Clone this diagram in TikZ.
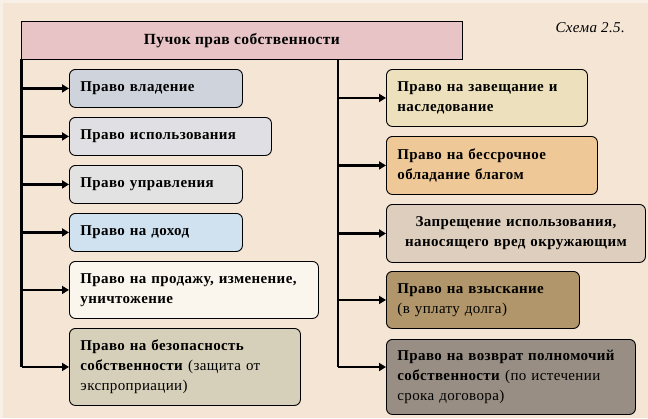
\documentclass[tikz,border=0pt]{standalone}
\usepackage{fontspec}
\setmainfont{Liberation Serif}[LetterSpace=2.5]
\usetikzlibrary{arrows.meta}
\definecolor{bgc}{RGB}{244,229,213}
\definecolor{titlec}{RGB}{232,196,198}
\definecolor{cA}{RGB}{206,211,220}
\definecolor{cB}{RGB}{224,224,228}
\definecolor{cC}{RGB}{226,226,226}
\definecolor{cD}{RGB}{208,226,240}
\definecolor{cE}{RGB}{251,246,237}
\definecolor{cF}{RGB}{214,208,186}
\definecolor{rA}{RGB}{236,225,188}
\definecolor{rB}{RGB}{238,200,150}
\definecolor{rC}{RGB}{222,206,190}
\definecolor{rD}{RGB}{176,150,106}
\definecolor{rE}{RGB}{152,142,132}
\tikzset{
  box/.style={draw=black, line width=0.9pt, rounded corners=6pt, anchor=north west,
    inner xsep=11pt, inner ysep=0pt, align=left,
    font=\fontsize{15}{20}\selectfont\bfseries},
  conn/.style={line width=2.8pt, -{Triangle[length=7pt,width=8pt]}},
  trunk/.style={line width=2.8pt},
}
\begin{document}
\begin{tikzpicture}[x=1pt,y=-1pt]
\useasboundingbox (0,0) rectangle (648,418);
\fill[bgc] (0,0) rectangle (648,418);
\fill[white!40!bgc] (0,0) rectangle (648,3);
\fill[white!40!bgc] (0,0) rectangle (3,418);
% title
\node[draw=black, line width=0.9pt, fill=titlec, anchor=north west, minimum width=441pt, minimum height=38pt, inner sep=0pt,
  font=\fontsize{15.5}{18}\selectfont\bfseries] (t) at (21,21) {Пучок прав собственности};
\node[font=\fontsize{15}{18}\selectfont\itshape, anchor=east, inner sep=0pt] (sch) at (625,28) {Схема 2.5.};
% left boxes
\node[box, fill=cA, minimum width=173pt, minimum height=38pt, text width=151pt] (l1) at (69,69) {Право владение};
\node[box, fill=cB, minimum width=202pt, minimum height=38pt, text width=180pt] (l2) at (69,117) {Право использования};
\node[box, fill=cC, minimum width=173pt, minimum height=38pt, text width=151pt] (l3) at (69,165) {Право управления};
\node[box, fill=cD, minimum width=173pt, minimum height=38pt, text width=151pt] (l4) at (69,213) {Право на доход};
\node[box, fill=cE, minimum width=249pt, minimum height=57pt, text width=227pt] (l5) at (69,261) {Право на продажу, изменение,\\уничтожение};
\node[box, fill=cF, minimum width=231pt, minimum height=77pt, text width=209pt] (l6) at (69,328) {Право на безопасность\\собственности \textmd{(защита от}\\\textmd{экспроприации)}};
% right boxes
\node[box, fill=rA, minimum width=201pt, minimum height=57pt, text width=179pt] (r1) at (386,69) {Право на завещание и\\наследование};
\node[box, fill=rB, minimum width=211pt, minimum height=58pt, text width=189pt] (r2) at (386,136) {Право на бессрочное\\обладание благом};
\node[box, fill=rC, minimum width=259pt, minimum height=58pt, text width=237pt, align=center] (r3) at (386,204) {Запрещение использования,\\наносящего вред окружающим};
\node[box, fill=rD, minimum width=193pt, minimum height=57pt, text width=171pt] (r4) at (386,271) {Право на взыскание\\\textmd{(в уплату долга)}};
\node[box, fill=rE, minimum width=249pt, minimum height=75pt, text width=227pt] (r5) at (386,339) {Право на возврат полномочий\\собственности \textmd{(по истечении}\\\textmd{срока договора)}};
% trunks
\coordinate (lt) at (21.5,59);
\coordinate (lb) at (21.5,367);
\coordinate (rt) at (338,59);
\coordinate (rb) at (338,367);
\draw[trunk] (lt) -- (lb);
\draw[trunk] (rt) -- (rb);
\foreach \n in {l1,l2,l3,l4,l5,l6}{
  \draw[conn] (\n.west -| lt) -- (\n.west);
}
\foreach \n in {r1,r2,r3,r4}{
  \draw[conn] (\n.west -| rt) -- (\n.west);
}
\draw[conn] (rb) -- (rb -| r5.west);
\end{tikzpicture}
\end{document}
